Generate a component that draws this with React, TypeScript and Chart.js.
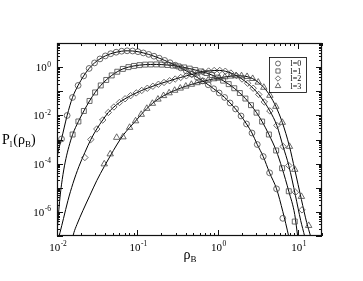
import { useEffect, useRef } from 'react';
import { Chart, registerables } from 'chart.js';

Chart.register(...registerables);

// ---- data ----
const seriesLabels = ['l=0', 'l=1', 'l=2', 'l=3'];

const l0X = [0.01138, 0.01337, 0.0156, 0.01832, 0.02148, 0.02512, 0.02938, 0.03428, 0.04, 0.04667, 0.05458, 0.06388, 0.07471, 0.08745, 0.102, 0.119, 0.1389, 0.1615, 0.1878, 0.2192, 0.2557, 0.2983, 0.349, 0.4082, 0.4775, 0.5586, 0.6535, 0.7647, 0.8949, 1.047, 1.225, 1.432, 1.676, 1.961, 2.294, 2.684, 3.122, 3.705, 4.447, 5.43, 6.5];
const l0Y = [1.05e-3, 9.9e-3, 0.0553, 0.174, 0.431, 0.883, 1.494, 2.188, 2.915, 3.597, 4.152, 4.57, 4.75, 4.66, 4.36, 3.88, 3.365, 2.834, 2.34, 1.897, 1.523, 1.199, 0.927, 0.695, 0.512, 0.374, 0.268, 0.186, 0.127, 0.085, 0.0553, 0.0327, 0.01844, 9.44e-3, 4.4e-3, 1.86e-3, 6.2e-4, 1.97e-4, 4.15e-5, 9.0e-6, 5.4e-7];

const l1X = [0.01565, 0.01847, 0.02161, 0.02542, 0.02983, 0.03509, 0.04105, 0.04803, 0.05634, 0.06612, 0.07756, 0.09101, 0.1068, 0.1253, 0.147, 0.1725, 0.2024, 0.2374, 0.2786, 0.3268, 0.3834, 0.4498, 0.5278, 0.6192, 0.7265, 0.8524, 1.0, 1.173, 1.377, 1.615, 1.895, 2.223, 2.608, 3.06, 3.591, 4.359, 5.37, 6.371, 7.713, 9.155];
const l1Y = [1.61e-3, 5.58e-3, 0.01523, 0.0396, 0.0892, 0.174, 0.294, 0.453, 0.644, 0.842, 1.0, 1.121, 1.21, 1.27, 1.29, 1.294, 1.27, 1.222, 1.154, 1.069, 0.972, 0.867, 0.758, 0.663, 0.569, 0.47, 0.3666, 0.2754, 0.197, 0.1332, 0.0842, 0.0498, 0.0265, 0.01294, 5.53e-3, 1.61e-3, 3.5e-4, 6.44e-5, 7.16e-6, 3.96e-7];

const l2X = [0.02223, 0.02638, 0.03131, 0.03715, 0.04359, 0.05114, 0.06, 0.07041, 0.0826, 0.09692, 0.1137, 0.1334, 0.1565, 0.1836, 0.2154, 0.2528, 0.2966, 0.3479, 0.4082, 0.4789, 0.562, 0.6593, 0.7736, 0.9077, 1.065, 1.249, 1.466, 1.72, 2.018, 2.367, 2.777, 3.258, 3.823, 4.485, 5.477, 6.556, 7.713, 9.339, 11.27];
const l2Y = [1.79e-4, 1.0e-3, 2.73e-3, 6.44e-3, 0.0132, 0.0223, 0.0343, 0.0488, 0.0657, 0.085, 0.108, 0.1332, 0.1612, 0.1952, 0.2318, 0.2727, 0.3209, 0.3737, 0.4355, 0.5028, 0.569, 0.632, 0.689, 0.723, 0.73, 0.676, 0.569, 0.444, 0.3209, 0.2148, 0.1332, 0.0737, 0.036, 0.01523, 3.81e-3, 5.12e-4, 8.34e-5, 6.51e-6, 1.21e-6];

const l3X = [0.03878, 0.04601, 0.05539, 0.06632, 0.08027, 0.09526, 0.1121, 0.1315, 0.1543, 0.181, 0.2124, 0.2492, 0.2923, 0.343, 0.4024, 0.4721, 0.5539, 0.6499, 0.7625, 0.8949, 1.05, 1.232, 1.445, 1.695, 1.989, 2.333, 2.738, 3.212, 3.769, 4.485, 5.323, 6.408, 7.869, 9.155, 11.08, 13.65];
const l3Y = [9.62e-5, 2.5e-4, 1.21e-3, 1.27e-3, 3.15e-3, 5.86e-3, 0.0109, 0.0193, 0.0312, 0.0466, 0.0651, 0.085, 0.108, 0.1332, 0.1612, 0.1915, 0.2232, 0.2551, 0.2888, 0.3239, 0.3597, 0.392, 0.4193, 0.436, 0.434, 0.4034, 0.3333, 0.2362, 0.1438, 0.0669, 0.0234, 5.08e-3, 5.12e-4, 5.69e-5, 4.31e-6, 2.7e-7];

// fitted curves: extra points where the fit runs beyond the markers
const fit0LeftX = [0.00958, 0.01029];
const fit0LeftY = [5.2e-5, 2.89e-4];
const fit0RightX = [6.5, 7.713, 8.403];
const fit0RightY = [1.03e-6, 9.4e-8, 2.5e-8];

const fit1LeftX = [0.01, 0.01089, 0.01187, 0.01293, 0.01408];
const fit1LeftY = [1.38e-7, 3.92e-6, 3.53e-5, 1.63e-4, 5.12e-4];
const fit1RightX = [9.155, 9.97, 10.86];
const fit1RightY = [7.73e-7, 9.44e-8, 1.54e-8];

const fit2LeftX = [0.01, 0.01089, 0.01204, 0.01368, 0.01578, 0.01874, 0.02223];
const fit2LeftY = [4.84e-8, 1.38e-7, 5.27e-7, 2.94e-6, 1.49e-5, 7.58e-5, 2.89e-4];
const fit2RightX = [9.339, 10.86, 12.18, 13.27];
const fit2RightY = [4.75e-6, 4.35e-7, 9.44e-8, 2.48e-8];

const fit3LeftX = [0.01491, 0.01624, 0.01769, 0.02101, 0.02564, 0.03131, 0.03878, 0.04601, 0.05539, 0.06632];
const fit3LeftY = [4.4e-8, 1.38e-7, 2.97e-7, 1.13e-6, 4.75e-6, 1.99e-5, 7.58e-5, 2.07e-4, 5.91e-4, 1.47e-3];
const fit3RightX = [11.08, 12.89, 14.45, 15.74];
const fit3RightY = [3.24e-6, 3.6e-7, 9.44e-8, 3.0e-8];

const xTickValues = [0.01, 0.1, 1, 10];
const xTickExps = ['-2', '-1', '0', '1'];
const yTickValues = [1e-6, 1e-4, 1e-2, 1];
const yTickExps = ['-6', '-4', '-2', '0'];

const X_MIN = 0.01;
const X_MAX = 20;
const Y_MIN = 1e-7;
const Y_MAX = 10;

const SERIF = '"Liberation Serif", "Times New Roman", serif';
const pointStyles = ['circle', 'rect', 'rectRot', 'triangle'];
const pointRadii = [2.9, 3.5, 3.2, 3.7];
const MARKER_COLOR = '#444';

const pts = (xs: number[], ys: number[]) => xs.map((x, i) => ({ x, y: ys[i] }));

const fitData = [
  pts([...fit0LeftX, ...l0X.slice(0, 40), ...fit0RightX], [...fit0LeftY, ...l0Y.slice(0, 40), ...fit0RightY]),
  pts([...fit1LeftX, ...l1X.slice(0, 39), ...fit1RightX], [...fit1LeftY, ...l1Y.slice(0, 39), ...fit1RightY]),
  pts([...fit2LeftX, ...l2X.slice(1, 37), ...fit2RightX], [...fit2LeftY, ...l2Y.slice(1, 37), ...fit2RightY]),
  pts([...fit3LeftX, ...l3X.slice(4, 34), ...fit3RightX], [...fit3LeftY, ...l3Y.slice(4, 34), ...fit3RightY]),
];
const markerData = [pts(l0X, l0Y), pts(l1X, l1Y), pts(l2X, l2Y), pts(l3X, l3Y)];

function drawMarker(ctx: CanvasRenderingContext2D, style: string, x: number, y: number, r: number) {
  ctx.beginPath();
  if (style === 'circle') {
    ctx.arc(x, y, r, 0, Math.PI * 2);
  } else if (style === 'rect') {
    const s = Math.SQRT1_2 * r;
    ctx.rect(x - s, y - s, 2 * s, 2 * s);
  } else if (style === 'rectRot') {
    ctx.moveTo(x - r, y);
    ctx.lineTo(x, y - r);
    ctx.lineTo(x + r, y);
    ctx.lineTo(x, y + r);
    ctx.closePath();
  } else {
    const a = Math.PI * 2 / 3;
    ctx.moveTo(x, y - r);
    ctx.lineTo(x + Math.sin(a) * r, y - Math.cos(a) * r);
    ctx.lineTo(x + Math.sin(2 * a) * r, y - Math.cos(2 * a) * r);
    ctx.closePath();
  }
  ctx.stroke();
}

function drawPow(ctx: CanvasRenderingContext2D, exp: string, x: number, baseline: number, align: 'right' | 'center') {
  ctx.font = `11px ${SERIF}`;
  const bw = ctx.measureText('10').width;
  ctx.font = `7.5px ${SERIF}`;
  const ew = ctx.measureText(exp).width;
  const total = bw + ew + 0.5;
  const left = align === 'right' ? x - total : x - total / 2;
  ctx.textAlign = 'left';
  ctx.textBaseline = 'alphabetic';
  ctx.font = `11px ${SERIF}`;
  ctx.fillText('10', left, baseline);
  ctx.font = `7.5px ${SERIF}`;
  ctx.fillText(exp, left + bw + 0.5, baseline - 4.6);
}

const decorPlugin = {
  id: 'decor',
  afterDatasetsDraw(chart: any) {
    const { ctx, chartArea: a, scales } = chart;
    const xs = scales.x;
    const ys = scales.y;
    ctx.save();
    ctx.strokeStyle = '#111';
    ctx.lineWidth = 1;
    ctx.beginPath();
    // x ticks (inward, bottom and top)
    for (let e = -2; e <= 1; e++) {
      for (let m = 1; m <= 9; m++) {
        const v = m * Math.pow(10, e);
        if (v < X_MIN || v > X_MAX) continue;
        const px = Math.round(xs.getPixelForValue(v)) + 0.5;
        const len = m === 1 ? 6 : 3;
        ctx.moveTo(px, a.bottom);
        ctx.lineTo(px, a.bottom - len);
        ctx.moveTo(px, a.top);
        ctx.lineTo(px, a.top + len);
      }
    }
    // y ticks (inward, left and right)
    for (let e = -7; e <= 1; e++) {
      for (let m = 1; m <= 9; m++) {
        const v = m * Math.pow(10, e);
        if (v < Y_MIN * 0.999 || v > Y_MAX * 1.001) continue;
        const py = Math.round(ys.getPixelForValue(v)) + 0.5;
        const len = m === 1 ? 6 : 3;
        ctx.moveTo(a.left, py);
        ctx.lineTo(a.left + len, py);
        ctx.moveTo(a.right, py);
        ctx.lineTo(a.right - len, py);
      }
    }
    ctx.stroke();
    // frame
    ctx.lineWidth = 1.2;
    ctx.strokeRect(a.left + 0.5, a.top + 0.5, a.right - a.left - 1, a.bottom - a.top - 1);

    // tick labels
    ctx.fillStyle = '#000';
    yTickValues.forEach((v, i) => {
      const py = ys.getPixelForValue(v);
      drawPow(ctx, yTickExps[i], a.left - 6, py + 4, 'right');
    });
    xTickValues.forEach((v, i) => {
      const px = xs.getPixelForValue(v);
      drawPow(ctx, xTickExps[i], px + 1, a.bottom + 15, 'center');
    });

    // axis titles
    ctx.textAlign = 'left';
    ctx.textBaseline = 'alphabetic';
    const cy = (a.top + a.bottom) / 2 + 4;
    let x = 2;
    const part = (t: string, size: number, dy: number) => {
      ctx.font = `${size}px ${SERIF}`;
      ctx.fillText(t, x, cy + dy);
      x += ctx.measureText(t).width;
    };
    part('P', 14, 0);
    part('l', 9, 3);
    x += 1;
    part('(ρ', 14, 0);
    part('B', 9, 3);
    part(')', 14, 0);

    ctx.font = `14px ${SERIF}`;
    const rw = ctx.measureText('ρ').width;
    const xc = (a.left + a.right) / 2 - 6;
    ctx.fillText('ρ', xc, a.bottom + 23);
    ctx.font = `9px ${SERIF}`;
    ctx.fillText('B', xc + rw, a.bottom + 26);

    // legend box
    const lx = 269, ly = 57, lw = 37, lh = 35;
    ctx.fillStyle = '#fff';
    ctx.fillRect(lx, ly, lw, lh);
    ctx.lineWidth = 0.8;
    ctx.strokeStyle = '#000';
    ctx.strokeRect(lx + 0.5, ly + 0.5, lw, lh);
    ctx.fillStyle = '#000';
    ctx.font = `8px ${SERIF}`;
    ctx.textBaseline = 'middle';
    seriesLabels.forEach((lab, i) => {
      const yy = ly + 6.5 + i * 7.5;
      ctx.strokeStyle = MARKER_COLOR;
      ctx.lineWidth = 0.8;
      drawMarker(ctx, pointStyles[i], lx + 9, yy, pointRadii[i] * 0.85);
      ctx.fillText(lab, lx + 21.5, yy + 0.5);
    });
    ctx.restore();
  },
};

export default function App() {
  const ref = useRef<HTMLCanvasElement>(null);
  useEffect(() => {
    const datasets: any[] = [];
    markerData.forEach((d, i) => {
      datasets.push({
        label: seriesLabels[i],
        data: d,
        showLine: false,
        pointStyle: pointStyles[i],
        pointRadius: pointRadii[i],
        pointBorderWidth: 0.8,
        pointBorderColor: MARKER_COLOR,
        pointBackgroundColor: 'rgba(0,0,0,0)',
        order: 1,
      });
    });
    fitData.forEach((d, i) => {
      datasets.push({
        label: 'fit ' + seriesLabels[i],
        data: d,
        showLine: true,
        pointRadius: 0,
        borderColor: '#000',
        borderWidth: 1,
        fill: false,
        cubicInterpolationMode: 'monotone',
        order: 2,
      });
    });
    const chart = new Chart(ref.current as HTMLCanvasElement, {
      type: 'scatter',
      data: { datasets },
      options: {
        responsive: false,
        devicePixelRatio: 1,
        animation: false,
        events: [],
        layout: { padding: { left: 57, right: 41, top: 43, bottom: 45 } },
        plugins: { legend: { display: false }, tooltip: { enabled: false } },
        scales: {
          x: { type: 'logarithmic', min: X_MIN, max: X_MAX, display: false },
          y: { type: 'logarithmic', min: Y_MIN, max: Y_MAX, display: false },
        },
      } as any,
      plugins: [decorPlugin],
    });
    return () => chart.destroy();
  }, []);
  return (
    <div style={{ position: 'fixed', left: 0, top: 0, width: 363, height: 281, background: '#fff' }}>
      <canvas ref={ref} width={363} height={281} style={{ display: 'block', width: 363, height: 281 }} />
    </div>
  );
}
